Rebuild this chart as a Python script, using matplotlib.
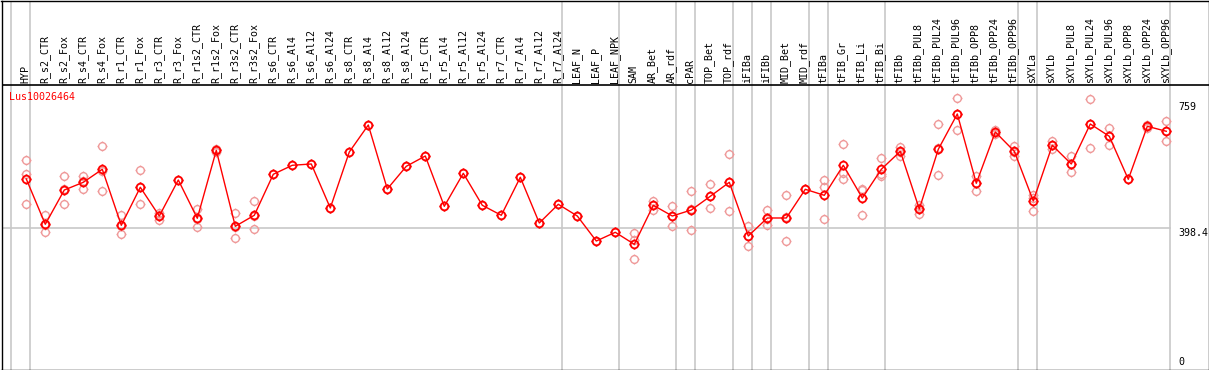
import numpy as np
import matplotlib
matplotlib.use("Agg")
import matplotlib.pyplot as plt
from matplotlib.path import Path

gene = "Lus10026464"

labels = [
    "HYP", "R_s2_CTR", "R_s2_Fox", "R_s4_CTR", "R_s4_Fox", "R_r1_CTR", "R_r1_Fox",
    "R_r3_CTR", "R_r3_Fox", "R_r1s2_CTR", "R_r1s2_Fox", "R_r3s2_CTR", "R_r3s2_Fox",
    "R_s6_CTR", "R_s6_Al4", "R_s6_Al12", "R_s6_Al24", "R_s8_CTR", "R_s8_Al4",
    "R_s8_Al12", "R_s8_Al24", "R_r5_CTR", "R_r5_Al4", "R_r5_Al12", "R_r5_Al24",
    "R_r7_CTR", "R_r7_Al4", "R_r7_Al12", "R_r7_Al24", "LEAF_N", "LEAF_P", "LEAF_NPK",
    "SAM", "AR_Bet", "AR_rdf", "cPAR", "TOP_Bet", "TOP_rdf", "iFIBa", "iFIBb",
    "MID_Bet", "MID_rdf", "tFIBa", "tFIB_Gr", "tFIB_Li", "tFIB_Bi", "tFIBb",
    "tFIBb_PUL8", "tFIBb_PUL24", "tFIBb_PUL96", "tFIBb_OPP8", "tFIBb_OPP24",
    "tFIBb_OPP96", "sXYLa", "sXYLb", "sXYLb_PUL8", "sXYLb_PUL24", "sXYLb_PUL96",
    "sXYLb_OPP8", "sXYLb_OPP24", "sXYLb_OPP96",
]

means = [
    535.0, 409.7, 504.6, 525.9, 561.9, 406.9, 512.1, 432.6, 532.3, 426.3, 614.5,
    404.1, 434.6, 548.1, 573.0, 576.6, 454.8, 609.8, 684.5, 507.4, 570.2, 598.7,
    459.5, 550.8, 462.3, 434.6, 539.8, 413.3, 465.0, 432.6, 363.4, 387.5, 354.3,
    462.3, 432.6, 449.2, 487.2, 525.9, 377.3, 427.1, 427.1, 506.5, 489.9, 573.0,
    482.5, 561.9, 611.7, 452.0, 617.3, 715.0, 523.2, 665.2, 611.7, 474.2, 628.3,
    576.6, 687.3, 653.2, 534.2, 680.9, 667.1,
]

replicates = [
    [587.7, 548.1, 465.0], [434.6, 387.5, 407.0], [542.5, 465.0, 506.3],
    [542.5, 506.5, 528.7], [626.4, 501.0, 558.3], [434.6, 382.0, 404.1],
    [559.1, 465.0, 512.2], [441.8, 421.6, 434.4], [532.3], [452.0, 403.0, 423.9],
    [614.5, 610.0, 619.0], [440.1, 370.9, 401.3], [474.2, 396.7, 432.9],
    [548.1], [573.0], [576.6], [454.8], [609.8], [684.5], [507.4], [570.2],
    [598.7], [459.5], [550.8], [462.3], [434.6], [539.8], [413.3], [465.0],
    [432.6], [363.4], [387.5],
    [384.8, 366.2, 312.8], [474.2, 449.2, 463.5], [459.5, 405.0, 433.3],
    [501.8, 393.1, 452.7], [520.4, 454.0, 487.2], [603.4, 446.5, 527.8],
    [405.0, 348.8, 378.1], [449.2, 406.9, 425.2], [489.9, 362.6, 428.8],
    [506.5], [532.3, 513.7, 423.5], [631.9, 534.2, 552.9], [504.6, 434.6, 508.3],
    [592.4, 544.2, 549.1], [624.5, 599.5, 611.1], [463.1, 439.0, 453.9],
    [686.5, 545.3, 620.1], [759.3, 669.9, 715.8], [543.4, 501.0, 525.2],
    [671.5, 658.8, 665.3], [626.4, 597.9, 610.8], [491.6, 447.3, 483.7],
    [628.3, 640.0, 617.0], [598.7, 553.6, 577.5], [755.7, 620.0, 686.2],
    [676.2, 628.3, 655.1], [534.2], [684.5, 677.0, 681.2], [694.8, 639.4, 667.1],
]

# first column of each sample group (last entry = end of the table)
group_starts = [0, 1, 29, 32, 35, 36, 38, 39, 40, 42, 43, 46, 53, 54, 61]

y_max = 759
y_mid = 398.4

# layout (data units)
Y_TOP = 1029.1
Y_BOTTOM = 7.75
HEADER_Y = 794.4
LABEL_Y = 800.0

RED = "#ff0000"
PALE = "#ef9a9a"
GRID = "#c8c8c8"
FONT = "DejaVu Sans Mono"
FS = 7.2

# circle with four little ticks, like the original marker
circle = Path.unit_circle()
ticks = []
for dx, dy in [(1, 0), (-1, 0), (0, 1), (0, -1)]:
    ticks.append(Path([[dx, dy], [dx * 1.3, dy * 1.3]], [Path.MOVETO, Path.LINETO]))
tick_marker = Path.make_compound_path(circle, *ticks)

x = np.arange(len(labels))

fig = plt.figure(figsize=(12.09, 3.70), dpi=100)
ax = fig.add_axes([1.5 / 1209, 0.5 / 370, 1207 / 1209, 369 / 370])
ax.set_xlim(-1.305, 62.221)
ax.set_ylim(Y_BOTTOM, Y_TOP)
ax.set_xticks([])
ax.set_yticks([])
for sp in ax.spines.values():
    sp.set_color("black")
    sp.set_linewidth(1.0)

# group separators and reference line
for g in group_starts:
    ax.axvline(g - 0.8, color=GRID, lw=1.2, zorder=1)
ax.plot([x[0] - 1.4, group_starts[-1] - 0.8], [y_mid, y_mid], color=GRID, lw=1.2, zorder=1)
ax.axhline(HEADER_Y, color="black", lw=1.2, zorder=2)

# replicates
for i, reps in enumerate(replicates):
    ax.plot([i] * len(reps), reps, ls="none", marker=tick_marker, ms=7.2,
            mfc="none", mec=PALE, mew=1.0, zorder=3)

# means
ax.plot(x, means, color=RED, lw=1.0, marker=tick_marker, ms=7.2,
        mfc="none", mec=RED, mew=1.3, zorder=4)

# column labels
for i, lab in enumerate(labels):
    ax.text(i - 0.05, LABEL_Y, lab, rotation=90, ha="center", va="bottom",
            family=FONT, fontsize=FS, color="black")

ax.text(-0.9, 761.0, gene, ha="left", va="center", family=FONT, fontsize=FS, color=RED)

# right side scale labels
for val, txt, dy in [(y_max, "759", -8.6), (y_mid, "398.4", -4.4), (0, "0", 10.0)]:
    ax.annotate(txt, xy=(60.63, val), xytext=(0, dy), textcoords="offset pixels",
                ha="left", va="center", family=FONT, fontsize=FS, color="black",
                annotation_clip=False)

fig.savefig("out.png", dpi=100)
